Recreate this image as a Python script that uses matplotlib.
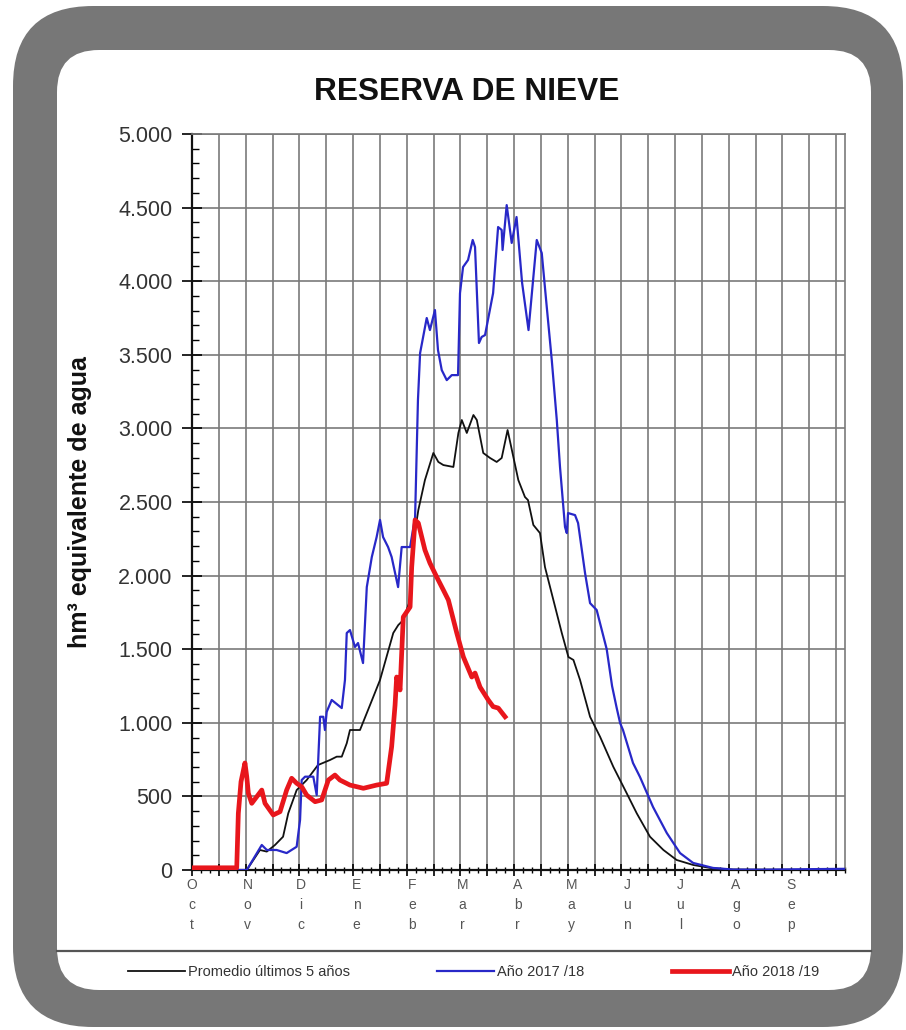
import numpy as np
import matplotlib.pyplot as plt
from matplotlib.patches import FancyBboxPatch
from matplotlib.ticker import FuncFormatter, MultipleLocator

plt.rcParams['font.family'] = ['Liberation Sans', 'DejaVu Sans']

# --------------------------------------------------
# Data (day of hydrological year from 1 Oct, hm3)
# --------------------------------------------------
month_start = [0, 31, 61, 92, 123, 151, 182, 212, 243, 273, 304, 335]
month_names = ['Oct', 'Nov', 'Dic', 'Ene', 'Feb', 'Mar', 'Abr', 'May', 'Jun', 'Jul', 'Ago', 'Sep']

avg_day = [0, 30.6, 38.0, 41.8, 46.4, 50.9, 53.8, 58.5, 64.1, 70.4,
           77.1, 80.9, 83.7, 86.5, 88.3, 93.9, 97.7, 101.3, 105.1, 112.5,
           115.3, 118.1, 121.9, 123.7, 126.5, 130.2, 134.9, 137.7, 140.5, 146.1,
           148.9, 150.8, 153.6, 157.3, 159.2, 162.8, 166.6, 170.3, 173.1, 176.4,
           179.2, 182.4, 186.1, 187.8, 190.8, 194.5, 197.3, 202.0, 206.7, 210.4,
           213.2, 216.9, 222.5, 228.1, 235.5, 243.0, 248.6, 256.0, 263.5, 270.9,
           280.2, 289.6, 302.4, 365]
avg_val = [0, 0, 136, 125, 170, 226, 385, 543, 611, 713,
           747, 770, 770, 861, 951, 951, 1066, 1175, 1291, 1610,
           1664, 1698, 1834, 2221, 2445, 2649, 2833, 2772, 2751, 2738,
           2969, 3057, 2969, 3091, 3057, 2833, 2799, 2772, 2799, 2989,
           2830, 2649, 2534, 2513, 2344, 2289, 2058, 1834, 1610, 1447,
           1427, 1291, 1041, 905, 701, 521, 385, 226, 136, 68,
           34, 14, 3, 0]

y1718_day = [0, 30.6, 39.0, 41.8, 47.3, 52.9, 58.5, 60.4, 61.3, 63.2,
             67.8, 69.7, 71.6, 73.4, 74.3, 75.3, 78.1, 83.7, 85.5, 86.5,
             88.3, 91.1, 92.8, 95.6, 97.7, 100.5, 103.2, 105.1, 106.8, 109.6,
             111.6, 115.2, 117.2, 121.9, 124.7, 126.3, 127.5, 131.2, 133.0, 135.8,
             137.5, 139.6, 142.4, 145.2, 148.7, 149.8, 151.5, 154.3, 156.9, 158.2,
             160.4, 161.9, 163.8, 168.3, 171.1, 173.1, 173.6, 175.9, 178.7, 181.4,
             184.5, 188.1, 192.7, 195.5, 198.3, 201.1, 203.9, 205.7, 208.5, 209.5,
             210.2, 214.1, 215.8, 219.7, 222.5, 226.2, 231.8, 234.8, 237.4, 239.3,
             240.9, 246.5, 250.4, 257.7, 265.4, 272.8, 280.1, 291.2, 302.4, 317.5,
             339.9, 365]
y1718_val = [0, 0, 170, 136, 136, 115, 158, 340, 611, 634,
             634, 509, 1041, 1041, 951, 1075, 1155, 1100, 1291, 1610,
             1630, 1515, 1542, 1406, 1922, 2126, 2262, 2378, 2262, 2194,
             2126, 1922, 2194, 2194, 2398, 3193, 3512, 3750, 3668, 3804,
             3532, 3396, 3328, 3362, 3362, 3919, 4096, 4144, 4280, 4232,
             3580, 3621, 3634, 3919, 4368, 4348, 4212, 4517, 4260, 4436,
             3990, 3668, 4280, 4191, 3824, 3464, 3057, 2738, 2330, 2289,
             2425, 2411, 2357, 2017, 1813, 1766, 1500, 1250, 1100, 998,
             951, 727, 632, 428, 251, 115, 48, 14, 3, 2,
             5, 8]

y1819_day = [0, 25.0, 25.9, 27.4, 29.6, 30.6, 31.5, 33.4, 36.2, 39.0,
             40.8, 45.4, 49.2, 52.9, 55.7, 58.5, 61.3, 64.1, 68.8, 72.5,
             76.2, 79.9, 82.7, 88.3, 95.8, 103.2, 108.8, 111.6, 113.5, 114.4,
             116.3, 118.1, 121.9, 122.8, 124.7, 126.5, 130.2, 133.0, 136.8, 140.5,
             143.3, 148.0, 151.7, 156.4, 158.2, 161.0, 165.6, 168.3, 171.2, 175.0]
y1819_val = [15, 15, 385, 600, 727, 634, 521, 453, 498, 543,
             453, 374, 396, 543, 623, 589, 566, 509, 464, 476,
             611, 645, 611, 577, 555, 577, 589, 838, 1120, 1311,
             1223, 1719, 1787, 2058, 2378, 2357, 2174, 2085, 1990, 1902,
             1834, 1610, 1447, 1311, 1338, 1243, 1155, 1110, 1100, 1041]

W, H = 906, 1030
fig = plt.figure(figsize=(W / 100, H / 100), dpi=100)
fig.patch.set_facecolor('white')

# --------------------------------------------------
# Rounded gray frame + white panel (pixel coords)
# --------------------------------------------------
bg = fig.add_axes([0, 0, 1, 1], zorder=0)
bg.set_xlim(0, W)
bg.set_ylim(H, 0)
bg.axis('off')
bg.add_patch(FancyBboxPatch((13, 6), 890, 1021, boxstyle='round,pad=0,rounding_size=80',
                            fc='#777777', ec='none'))
bg.add_patch(FancyBboxPatch((57, 50), 814, 940, boxstyle='round,pad=0,rounding_size=42',
                            fc='white', ec='none'))
bg.plot([57, 871], [951, 951], color='#555555', lw=1.6)

fig.text(467 / W, 1 - 100 / H, 'RESERVA DE NIEVE', ha='center', va='baseline',
         fontsize=22.8, fontweight='bold', color='#111111')
fig.text(80 / W, 1 - 502 / H, 'hm³ equivalente de agua', rotation=90, ha='center',
         va='center', fontsize=18, fontweight='bold', color='#111111')

# --------------------------------------------------
# Main axes
# --------------------------------------------------
ax = fig.add_axes([192 / W, 160 / H, 653 / W, 736 / H], zorder=1)
ax.set_facecolor('none')

ax.plot(avg_day, avg_val, color='#111111', lw=1.3, label='Promedio últimos 5 años', zorder=3)
ax.plot(y1718_day, y1718_val, color='#2828c8', lw=1.6, label='Año 2017 /18', zorder=4)
ax.plot(y1819_day, y1819_val, color='#e8161c', lw=3.4, label='Año 2018 /19', zorder=5)

ax.set_xlim(0, 365)
ax.set_ylim(0, 5000)

# grid: every 15 days / every 500
for d in np.arange(15, 365, 15):
    ax.axvline(d, color='#7a7a7a', lw=1.2, zorder=1)
ax.yaxis.set_major_locator(MultipleLocator(500))
ax.yaxis.set_minor_locator(MultipleLocator(100))
ax.grid(axis='y', which='major', color='#7a7a7a', lw=1.2, zorder=1)
ax.yaxis.set_major_formatter(FuncFormatter(lambda v, p: f'{v:,.0f}'.replace(',', '.')))
ax.tick_params(axis='y', which='major', direction='inout', length=14, width=1.2,
               labelsize=15.5, labelcolor='#333333', pad=7)
ax.tick_params(axis='y', which='minor', direction='in', length=5, width=1)

ax.xaxis.set_major_locator(MultipleLocator(15))
ax.xaxis.set_minor_locator(MultipleLocator(5))
ax.tick_params(axis='x', which='major', direction='inout', length=8, width=1.2, labelbottom=False)
ax.tick_params(axis='x', which='minor', direction='inout', length=4, width=1)

for s in ['left', 'bottom']:
    ax.spines[s].set_color('#111111')
    ax.spines[s].set_linewidth(1.6)
for s in ['top', 'right']:
    ax.spines[s].set_color('#7a7a7a')
    ax.spines[s].set_linewidth(1.2)

# month letters stacked vertically
sec = ax.secondary_xaxis('bottom')
sec.set_xticks(month_start, ['\n'.join(m) for m in month_names])
sec.tick_params(length=0, pad=6, labelsize=10, labelcolor='#555555')
for t in sec.get_xticklabels():
    t.set_linespacing(1.55)
sec.spines['bottom'].set_visible(False)

# --------------------------------------------------
# Legend
# --------------------------------------------------
handles, labels = ax.get_legend_handles_labels()
fig.legend(handles, labels, loc='center', bbox_to_anchor=(473.5 / W, 1 - 972 / H), ncol=3,
           frameon=False, fontsize=10.5, handlelength=3.9, handletextpad=0.2,
           columnspacing=6.0, labelcolor='#333333')

fig.savefig('out.png', dpi=100)
